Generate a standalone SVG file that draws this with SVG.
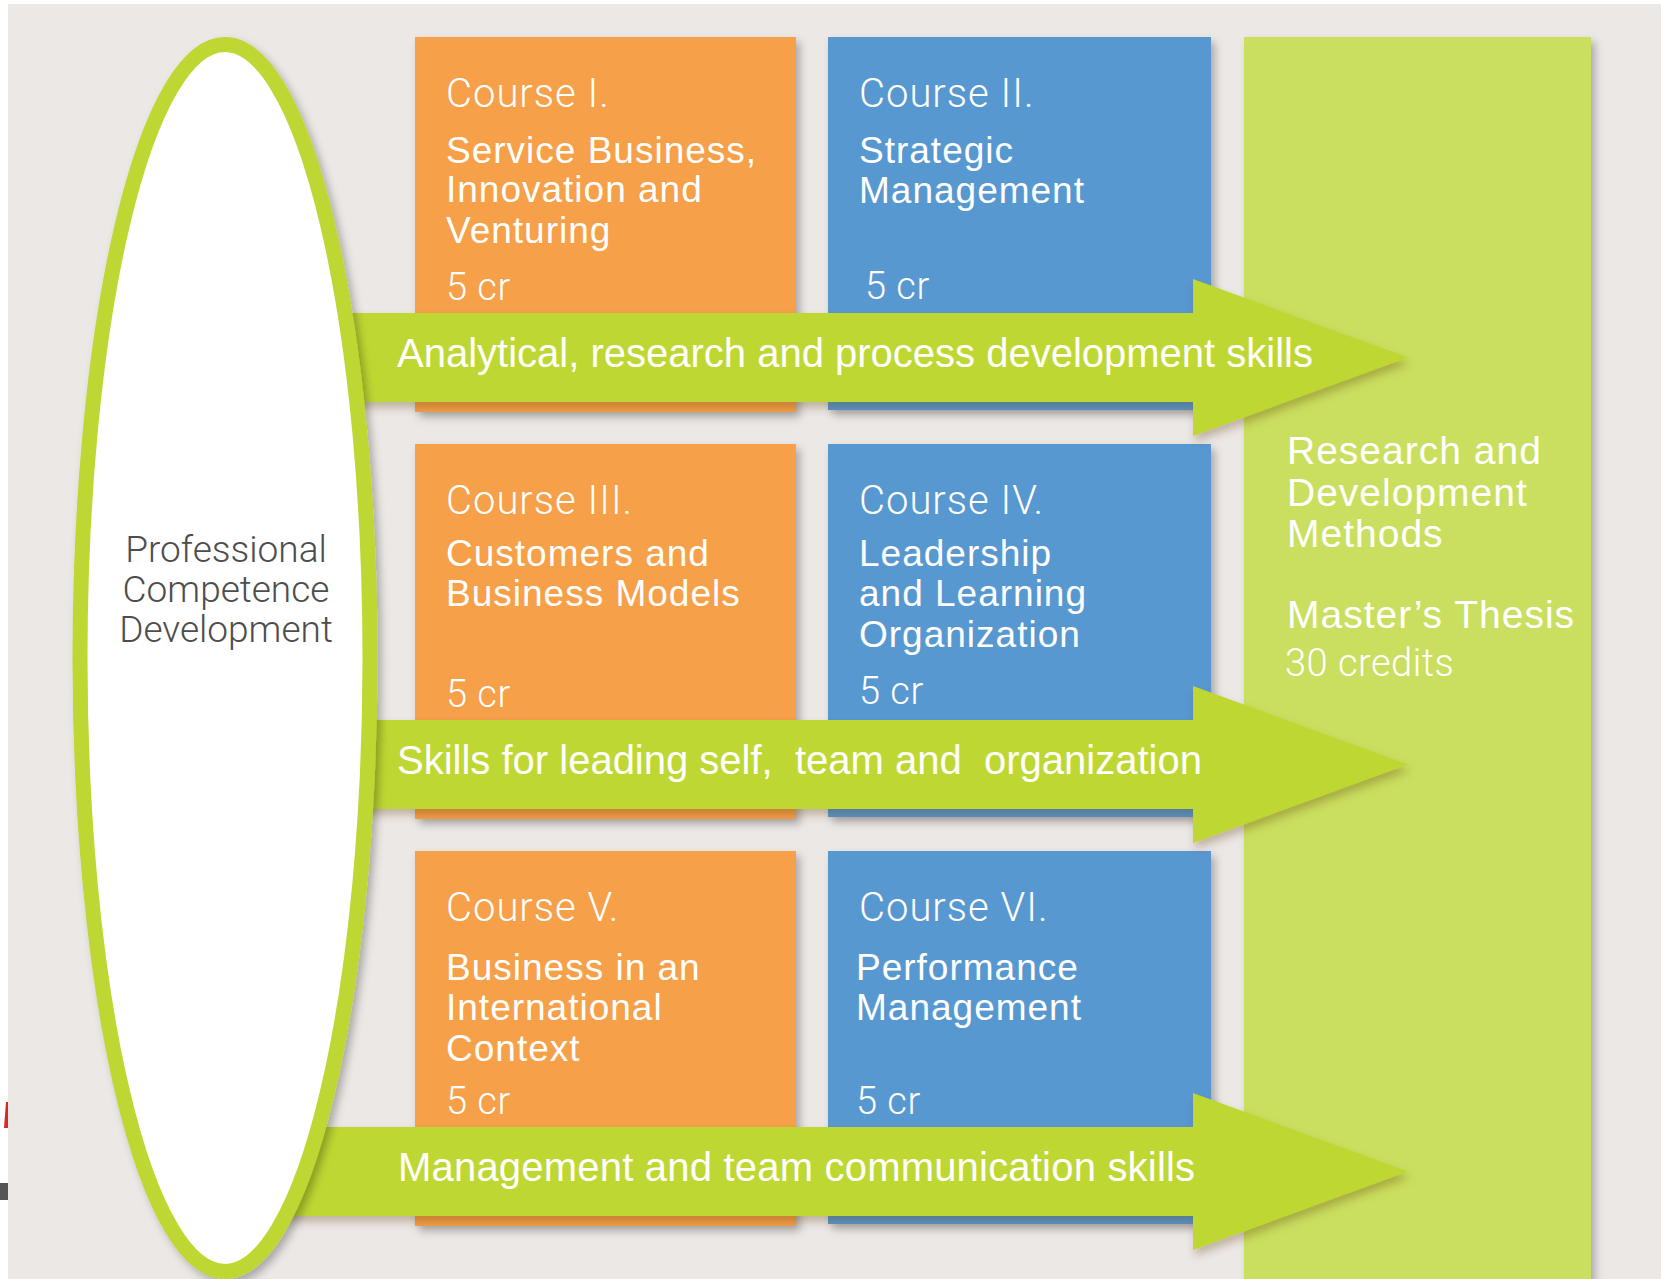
<svg xmlns="http://www.w3.org/2000/svg" width="1661" height="1279" viewBox="0 0 1661 1279">
<defs>
<filter id="sh" x="-10%" y="-10%" width="130%" height="130%">
<feDropShadow dx="4" dy="5" stdDeviation="4" flood-color="#000" flood-opacity="0.28"/>
</filter>
<filter id="shA" x="-5%" y="-20%" width="115%" height="150%">
<feDropShadow dx="2" dy="6" stdDeviation="4" flood-color="#5a3a10" flood-opacity="0.3"/>
</filter>
<style>
.orange{fill:#F6A04A}
.blue{fill:#5898D0}
.arrow{fill:#BFD730}
.t{font-family:"Liberation Sans",Arial,sans-serif;fill:#FFFFFF}
.c{font-family:Roboto,"Liberation Sans",sans-serif;font-weight:300;font-size:40px;letter-spacing:1px;fill:#FFFFFF}
.ti{font-size:37px;letter-spacing:1px}
.g{font-size:39px;letter-spacing:1px}
.cr{font-family:Roboto,"Liberation Sans",sans-serif;font-weight:300;font-size:38px;letter-spacing:0.5px;fill:#FFFFFF}
.at{font-family:"Liberation Sans",Arial,sans-serif;font-size:40px;fill:#FFFFFF;white-space:pre}
.pc{font-family:Roboto,"Liberation Sans",sans-serif;font-weight:300;font-size:37px;fill:#4D4D4D;text-anchor:middle}
</style>
</defs>
<rect x="0" y="0" width="1661" height="1279" fill="#FFFFFF"/>
<rect x="8" y="4" width="1653" height="1275" fill="#ECE8E6"/>
<polygon points="6,1102 8,1102 8,1128 4,1128" fill="#D8262B"/>
<rect x="0" y="1183" width="8" height="17" fill="#555555"/>

<g id="thesis">
<rect x="1244" y="37" width="347" height="1250" fill="#CADF5F" filter="url(#sh)"/>
<text class="t g" x="1287" y="464">Research and</text>
<text class="t g" x="1287" y="506">Development</text>
<text class="t g" x="1287" y="547">Methods</text>
<text class="t g" x="1287" y="628">Master’s Thesis</text>
<text class="cr" x="1285" y="676" letter-spacing="1.2">30 credits</text>
</g>

<g id="course1">
<rect class="orange" x="415" y="37" width="381" height="375" filter="url(#sh)"/>
<text class="c" x="446" y="107">Course I.</text>
<text class="t ti" x="446" y="163">Service Business,</text>
<text class="t ti" x="446" y="202">Innovation and</text>
<text class="t ti" x="446" y="243">Venturing</text>
<text class="cr" x="446" y="300">5 cr</text>
</g>
<g id="course2">
<rect class="blue" x="828" y="37" width="383" height="373" filter="url(#sh)"/>
<text class="c" x="859" y="107">Course II.</text>
<text class="t ti" x="859" y="163">Strategic</text>
<text class="t ti" x="859" y="203">Management</text>
<text class="cr" x="865" y="299">5 cr</text>
</g>
<g id="course3">
<rect class="orange" x="415" y="444" width="381" height="375" filter="url(#sh)"/>
<text class="c" x="446" y="514">Course III.</text>
<text class="t ti" x="446" y="566">Customers and</text>
<text class="t ti" x="446" y="606">Business Models</text>
<text class="cr" x="446" y="707">5 cr</text>
</g>
<g id="course4">
<rect class="blue" x="828" y="444" width="383" height="373" filter="url(#sh)"/>
<text class="c" x="859" y="514">Course IV.</text>
<text class="t ti" x="859" y="566">Leadership</text>
<text class="t ti" x="859" y="606">and Learning</text>
<text class="t ti" x="859" y="647">Organization</text>
<text class="cr" x="859" y="704">5 cr</text>
</g>
<g id="course5">
<rect class="orange" x="415" y="851" width="381" height="375" filter="url(#sh)"/>
<text class="c" x="446" y="921">Course V.</text>
<text class="t ti" x="446" y="980">Business in an</text>
<text class="t ti" x="446" y="1020">International</text>
<text class="t ti" x="446" y="1061">Context</text>
<text class="cr" x="446" y="1114">5 cr</text>
</g>
<g id="course6">
<rect class="blue" x="828" y="851" width="383" height="373" filter="url(#sh)"/>
<text class="c" x="859" y="921">Course VI.</text>
<text class="t ti" x="856" y="980">Performance</text>
<text class="t ti" x="856" y="1020">Management</text>
<text class="cr" x="856" y="1114">5 cr</text>
</g>

<g id="connectors">
<g id="arrow1">
<path class="arrow" filter="url(#shA)" d="M230,313 H1193 V279 L1408,357.5 L1193,436 V402 H230 Z"/>
<text class="at" x="397" y="367">Analytical, research and process development skills</text>
</g>
<g id="arrow2">
<path class="arrow" filter="url(#shA)" d="M230,720 H1193 V686 L1408,764.5 L1193,843 V809 H230 Z"/>
<text class="at" x="397" y="774">Skills for leading self,  team and  organization</text>
</g>
<g id="arrow3">
<path class="arrow" filter="url(#shA)" d="M230,1127 H1193 V1093 L1408,1171.5 L1193,1250 V1216 H230 Z"/>
<text class="at" x="398" y="1181" letter-spacing="0.2">Management and team communication skills</text>
</g>
</g>

<g id="competence">
<ellipse cx="225" cy="658" rx="145" ry="613.5" fill="#FFFFFF" stroke="#BFD730" stroke-width="15" filter="url(#sh)"/>
<text class="pc" x="226" y="562">Professional</text>
<text class="pc" x="226" y="602">Competence</text>
<text class="pc" x="226" y="642">Development</text>
</g>
</svg>
